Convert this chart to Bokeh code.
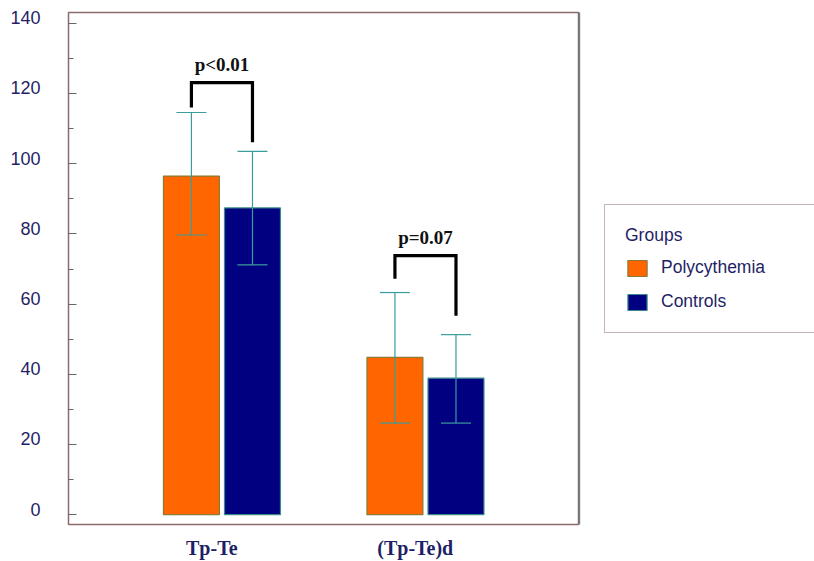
from bokeh.plotting import figure
from bokeh.layouts import row
from bokeh.models import (ColumnDataSource, Range1d, FixedTicker, Whisker, TeeHead,
                          Legend, LegendItem, LinearAxis)
from bokeh.core.properties import value
from bokeh.embed import file_html
from bokeh.resources import INLINE

# ---- data ----
categories = ["Tp-Te", "(Tp-Te)d"]
series_names = ["Polycythemia", "Controls"]
poly_mean = [96.5, 44.8]
poly_upper = [114.6, 63.3]
poly_lower = [79.7, 26.1]
ctrl_mean = [87.4, 38.9]
ctrl_upper = [103.5, 51.3]
ctrl_lower = [71.2, 26.1]
p_labels = ["p<0.01", "p=0.07"]
# bracket heights (left leg bottom, top bar, right leg bottom)
br_left = [116.0, 67.2]
br_top = [123.1, 73.8]
br_right = [106.1, 56.7]
p_text_y = [128.2, 79.1]
y_ticks = [0, 20, 40, 60, 80, 100, 120, 140]
y_minor = [10, 30, 50, 70, 90, 110, 130]

NAVY_TXT = "#1f1f66"
SANS = "Liberation Sans"
SERIF = "Liberation Serif"
ORANGE, ORANGE_EDGE = "#ff6600", "#8a7a35"
NAVY, NAVY_EDGE = "#000080", "#3a8a8a"
ERR = "#3a9c9c"
OFF = 0.15
BW = 0.275

gx = [i + 1 for i in range(len(categories))]
X0, X1 = 0.246, 2.752
Y0, Y1 = -2.8, 143.1
LBL_SHIFT_Y = 1.6   # tick labels sit a few pixels above their ticks
LBL_SHIFT_X = 0.05  # category labels sit a little left of the group centres

p = figure(width=579, height=561, output_backend="svg", toolbar_location=None,
           x_range=Range1d(X0, X1), y_range=Range1d(Y0, Y1),
           min_border_left=68, min_border_right=1, min_border_top=12,
           min_border_bottom=34)
p.background_fill_color = "white"
p.border_fill_color = "white"
p.outline_line_color = "#8b6b6b"
p.outline_line_width = 1.5
p.xgrid.visible = False
p.ygrid.visible = False

ya = p.yaxis[0]
ya.ticker = FixedTicker(ticks=y_ticks, minor_ticks=y_minor)
ya.axis_line_color = None
ya.major_tick_in = 8
ya.major_tick_out = 0
ya.minor_tick_in = 5
ya.minor_tick_out = 0
ya.major_tick_line_color = "#666666"
ya.minor_tick_line_color = "#666666"
ya.major_label_standoff = 0
ya.major_label_overrides = {t: "" for t in y_ticks}
ya.major_label_text_font_size = "1px"

p.extra_y_ranges = {"lbl": Range1d(Y0 - LBL_SHIFT_Y, Y1 - LBL_SHIFT_Y)}
ya2 = LinearAxis(y_range_name="lbl", ticker=FixedTicker(ticks=y_ticks, minor_ticks=[]))
ya2.axis_line_color = None
ya2.major_tick_line_color = None
ya2.minor_tick_line_color = None
ya2.major_tick_in = 0
ya2.major_tick_out = 0
ya2.major_label_standoff = 28
ya2.major_label_text_font = SANS
ya2.major_label_text_font_size = "18px"
ya2.major_label_text_color = NAVY_TXT
p.add_layout(ya2, "left")

p.xaxis.visible = False
p.extra_x_ranges = {"lbl": Range1d(X0 + LBL_SHIFT_X, X1 + LBL_SHIFT_X)}
xa = LinearAxis(x_range_name="lbl", ticker=FixedTicker(ticks=gx, minor_ticks=[]))
xa.major_label_overrides = {g: c for g, c in zip(gx, categories)}
xa.axis_line_color = None
xa.major_tick_line_color = None
xa.minor_tick_line_color = None
xa.major_tick_in = 0
xa.major_tick_out = 0
xa.major_label_standoff = 12
xa.major_label_text_font = SERIF
xa.major_label_text_font_style = "bold"
xa.major_label_text_font_size = "20px"
xa.major_label_text_color = NAVY_TXT
p.add_layout(xa, "below")

src_p = ColumnDataSource(dict(x=[g - OFF for g in gx], top=poly_mean,
                              up=poly_upper, lo=poly_lower))
src_c = ColumnDataSource(dict(x=[g + OFF for g in gx], top=ctrl_mean,
                              up=ctrl_upper, lo=ctrl_lower))

p.vbar(x="x", top="top", bottom=0, width=BW, source=src_p,
       fill_color=ORANGE, line_color=ORANGE_EDGE, line_width=1.2)
p.vbar(x="x", top="top", bottom=0, width=BW, source=src_c,
       fill_color=NAVY, line_color=NAVY_EDGE, line_width=1.2)

for src in (src_p, src_c):
    w = Whisker(base="x", upper="up", lower="lo", source=src, level="annotation",
                line_color=ERR, line_width=1.2,
                upper_head=TeeHead(size=30, line_color=ERR, line_width=1.2),
                lower_head=TeeHead(size=30, line_color=ERR, line_width=1.2))
    p.add_layout(w)

# significance brackets
xs = [[g - OFF, g - OFF, g + OFF, g + OFF] for g in gx]
ys = [[a, t, t, b] for a, t, b in zip(br_left, br_top, br_right)]
p.multi_line(xs=xs, ys=ys, line_color="black", line_width=3.2, line_join="miter")
p.text(x=gx, y=p_text_y, text=p_labels, text_align="center", text_baseline="middle",
       text_font=value(SERIF), text_font_style="bold", text_font_size="19px",
       text_color="#111111")

# ---- legend panel (a second, axis-less figure beside the chart) ----
q = figure(width=235, height=561, output_backend="svg", toolbar_location=None,
           x_range=Range1d(0, 1), y_range=Range1d(0, 1),
           min_border_left=0, min_border_right=0, min_border_top=12,
           min_border_bottom=34)
q.axis.visible = False
q.grid.visible = False
q.outline_line_color = None
q.background_fill_color = "white"
q.border_fill_color = "white"
# legend swatch proxies, kept outside the visible range of this panel
lp = q.vbar(x=[-5], top=[1], width=0.1, fill_color=ORANGE, line_color=ORANGE_EDGE,
            line_width=1.2)
lc = q.vbar(x=[-5], top=[1], width=0.1, fill_color=NAVY, line_color=NAVY_EDGE,
            line_width=1.2)

legend = Legend(items=[LegendItem(label=series_names[0], renderers=[lp]),
                       LegendItem(label=series_names[1], renderers=[lc])],
                location=(25, 191), title="Groups",
                title_text_font=SANS, title_text_font_size="17.5px",
                title_text_font_style="normal", title_text_color=NAVY_TXT,
                title_standoff=11,
                label_text_font=SANS, label_text_font_size="17.5px",
                label_text_color=NAVY_TXT, label_width=170, label_height=20,
                glyph_width=24, glyph_height=20, label_standoff=12, spacing=13,
                padding=20, margin=0, border_line_color="#8b6b6b",
                border_line_width=1.5, background_fill_color="white",
                background_fill_alpha=1.0)
q.add_layout(legend, "center")

layout = row(p, q, spacing=0)
open("out.html", "w").write(file_html(layout, INLINE))
